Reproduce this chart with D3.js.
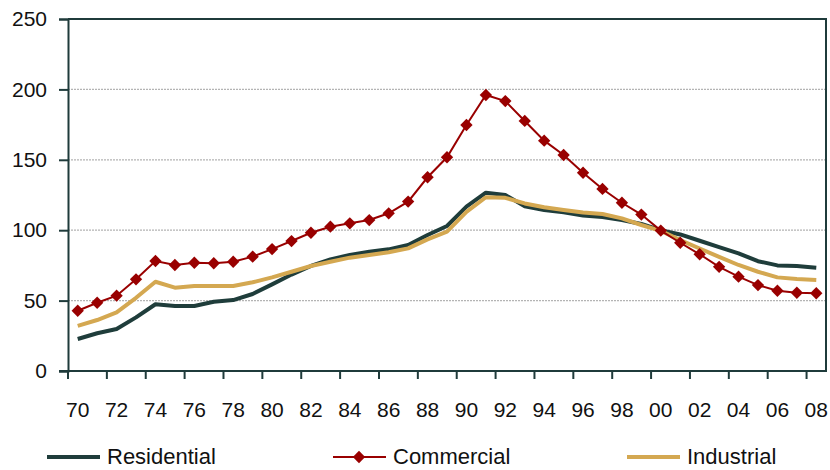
<!DOCTYPE html>
<html>
<head>
<meta charset="utf-8">
<script src="https://cdn.jsdelivr.net/npm/d3@7/dist/d3.min.js"></script>
<style>
  html, body { margin: 0; padding: 0; background: #fff; }
  svg { display: block; }
  text { font-family: "Liberation Sans", Arial, sans-serif; fill: #111; }
</style>
</head>
<body>
<svg id="chart" width="830" height="470"></svg>
<script>
// Index values by year (1970–2008)
const years = d3.range(1970, 2009);
const yearLabels = years.map(y => String(y % 100).padStart(2, "0"));

const residential = [
  22.7, 26.8, 29.8, 38.1, 47.4, 46.2, 46.2, 49.2, 50.4, 54.7,
  61.5, 68.5, 74.6, 79.3, 82.4, 84.7, 86.4, 89.5, 96.6, 103,
  116.7, 126.6, 125, 117, 114.3, 112.7, 110.5, 109.3, 107.2, 104.4,
  100, 97, 92.5, 88, 83.6, 78, 75, 74.5, 73.4
];
const commercial = [
  42.8, 48.5, 53.5, 65.1, 78.1, 75.3, 76.9, 76.5, 77.6, 81.2,
  86.6, 92.3, 98.2, 102.5, 104.9, 107.2, 112, 120.3, 137.6, 151.8,
  174.7, 196, 191.7, 177.6, 163.6, 153.4, 140.8, 129.3, 119.5, 111.1,
  99.7, 91.1, 82.9, 74, 67, 61, 57, 55.6, 55.2
];
const industrial = [
  32, 36.2, 41.7, 52, 63.4, 59.2, 60.4, 60.4, 60.4, 63,
  66.5, 70.5, 74.6, 77.6, 80.5, 82.4, 84.3, 87.1, 93.5, 99,
  113, 123.4, 123, 119, 116.3, 114.3, 112.5, 111.5, 108.4, 103.7,
  99.5, 93, 87, 81, 75.3, 70.5, 66.5, 65.3, 64.6
];
const yTicks = [0, 50, 100, 150, 200, 250];
const seriesNames = ["Residential", "Commercial", "Industrial"];

const colors = { Residential: "#1f3d3b", Commercial: "#990000", Industrial: "#d4a851" };
const axisColor = "#1f3b3b";

const svg = d3.select("#chart");
const plotLeft = 68, plotRight = 826, plotTop = 19, plotBottom = 371;

const x = d3.scaleBand().domain(years).range([plotLeft, plotRight]).padding(0);
const y = d3.scaleLinear().domain([0, 250]).range([plotBottom, plotTop]);
const cx = yr => x(yr) + x.bandwidth() / 2;

// Dotted horizontal gridlines
svg.append("g").selectAll("line")
  .data(yTicks.filter(t => t > 0 && t < 250))
  .join("line")
  .attr("x1", plotLeft).attr("x2", plotRight)
  .attr("y1", d => y(d)).attr("y2", d => y(d))
  .attr("stroke", "#b4b4b4").attr("stroke-width", 1.2)
  .attr("stroke-dasharray", "2,1");

// Frame: top and right edges
svg.append("path")
  .attr("d", `M${plotLeft},${y(250)}H${plotRight}V${plotBottom}`)
  .attr("fill", "none").attr("stroke", axisColor).attr("stroke-width", 2);

// Y axis
const yAxis = svg.append("g")
  .attr("transform", `translate(${plotLeft},0)`)
  .call(d3.axisLeft(y).tickValues(yTicks).tickSize(9).tickPadding(12).tickFormat(d3.format("d")));
yAxis.selectAll("line").attr("stroke", axisColor).attr("stroke-width", 2);
yAxis.select(".domain").attr("stroke", axisColor).attr("stroke-width", 2);
yAxis.selectAll("text").attr("font-size", 21).style("font-family", "Liberation Sans, Arial, sans-serif").attr("fill", "#111");

// X axis: labels centred in every other category, ticks on category boundaries
const evenYears = years.filter((d, i) => i % 2 === 0);
const xAxis = svg.append("g")
  .attr("transform", `translate(0,${plotBottom})`)
  .call(d3.axisBottom(x).tickValues(evenYears).tickSize(0).tickPadding(31)
    .tickFormat(d => yearLabels[years.indexOf(d)]));
xAxis.select(".domain").remove();
xAxis.selectAll("text").attr("font-size", 21).style("font-family", "Liberation Sans, Arial, sans-serif").attr("fill", "#111");

svg.append("g").selectAll("line")
  .data(evenYears)
  .join("line")
  .attr("x1", d => x(d)).attr("x2", d => x(d))
  .attr("y1", plotBottom).attr("y2", plotBottom + 8)
  .attr("stroke", axisColor).attr("stroke-width", 2);

svg.append("line")
  .attr("x1", plotLeft - 9).attr("x2", plotRight + 1)
  .attr("y1", plotBottom).attr("y2", plotBottom)
  .attr("stroke", axisColor).attr("stroke-width", 2);

// Series lines
const line = d3.line().x((d, i) => cx(years[i])).y(d => y(d));

svg.append("path").datum(residential)
  .attr("d", line).attr("fill", "none")
  .attr("stroke", colors.Residential).attr("stroke-width", 4).attr("stroke-linejoin", "round");

svg.append("path").datum(industrial)
  .attr("d", line).attr("fill", "none")
  .attr("stroke", colors.Industrial).attr("stroke-width", 4).attr("stroke-linejoin", "round");

svg.append("path").datum(commercial)
  .attr("d", line).attr("fill", "none")
  .attr("stroke", colors.Commercial).attr("stroke-width", 2);

// Diamond markers on the commercial series
const diamondPath = d3.symbol().type(d3.symbolSquare).size(76);
svg.append("g").selectAll("path")
  .data(commercial)
  .join("path")
  .attr("transform", (d, i) => `translate(${cx(years[i])},${y(d)}) rotate(45)`)
  .attr("d", diamondPath)
  .attr("fill", colors.Commercial);

// Legend
const legendItems = [
  { name: seriesNames[0], x0: 47, w: 4, marker: false },
  { name: seriesNames[1], x0: 333, w: 2, marker: true },
  { name: seriesNames[2], x0: 627, w: 4, marker: false }
];
const legY = 457;
const lg = svg.append("g").selectAll("g").data(legendItems).join("g");
lg.append("line")
  .attr("x1", d => d.x0).attr("x2", d => d.x0 + 53)
  .attr("y1", legY).attr("y2", legY)
  .attr("stroke", d => colors[d.name]).attr("stroke-width", d => d.w);
lg.filter(d => d.marker).append("path")
  .attr("transform", d => `translate(${d.x0 + 26},${legY}) rotate(45)`)
  .attr("d", diamondPath)
  .attr("fill", d => colors[d.name]);
lg.append("text")
  .attr("x", d => d.x0 + 60).attr("y", legY + 7)
  .attr("font-size", 22)
  .text(d => d.name);
</script>
</body>
</html>
